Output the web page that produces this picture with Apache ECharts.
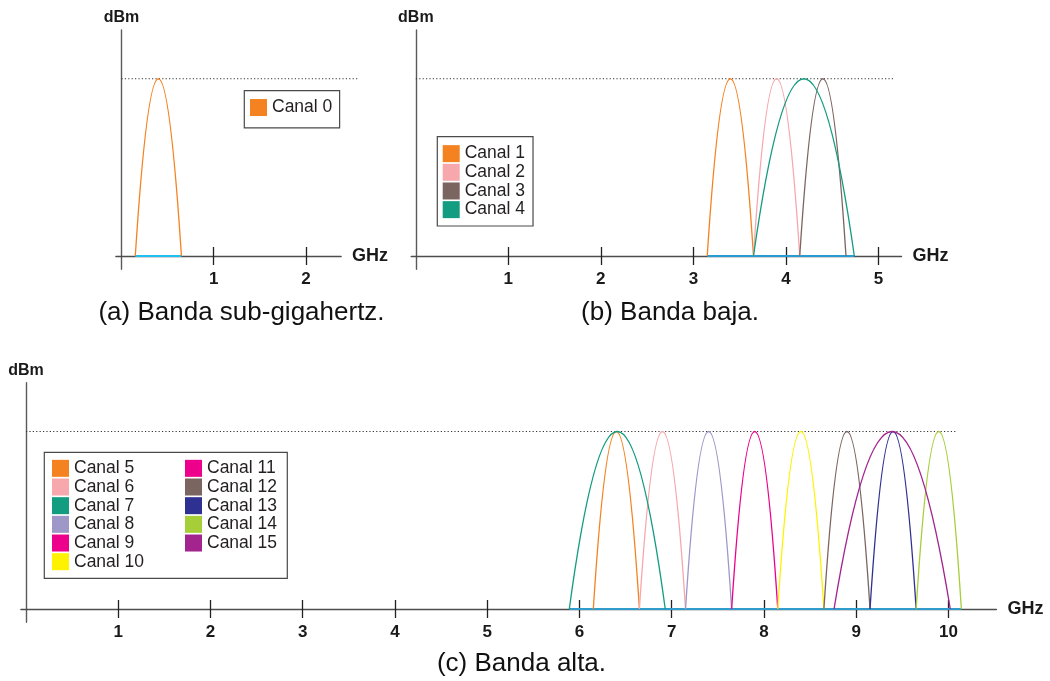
<!DOCTYPE html>
<html><head><meta charset="utf-8">
<script src="https://cdn.jsdelivr.net/npm/echarts@6/dist/echarts.min.js"></script>
<style>html,body{margin:0;padding:0;background:#fff}#c{width:1050px;height:681px}</style>
</head><body><div id="c"></div>
<script>
// ---- data ----
const namesA = ['Canal 0'];
const lowA = [0.15];
const highA = [0.65];
const colorsA = ['#f58220'];

const namesB = ['Canal 1', 'Canal 2', 'Canal 3', 'Canal 4'];
const lowB = [3.15, 3.65, 4.15, 3.65];
const highB = [3.65, 4.15, 4.65, 4.74];
const colorsB = ['#f58220', '#f6a8ac', '#7b6560', '#129c80'];

const namesC = ['Canal 5', 'Canal 6', 'Canal 7', 'Canal 8', 'Canal 9', 'Canal 10',
                'Canal 11', 'Canal 12', 'Canal 13', 'Canal 14', 'Canal 15'];
const lowC  = [6.15, 6.65, 5.89, 7.15, 7.65, 8.15, null, 8.65, 9.15, 9.65, 8.76];
const highC = [6.65, 7.15, 6.93, 7.65, 8.15, 8.65, null, 9.15, 9.65, 10.14, 10.02];
const colorsC = ['#f58220', '#f6a8ac', '#129c80', '#9e98c9', '#ec008c', '#fff200',
                 '#ec008c', '#7b6560', '#2e3192', '#a6ce39', '#a3238f'];

const peakLevel = 1;               // nivel máximo (línea punteada)
const refLineEnd = [2.56, 5.16, 10.08];
const ticksA = [1, 2];
const ticksB = [1, 2, 3, 4, 5];
const ticksC = [1, 2, 3, 4, 5, 6, 7, 8, 9, 10];
const captions = ['(a) Banda sub-gigahertz.', '(b) Banda baja.', '(c) Banda alta.'];

// ---- layout ----
const FONT = '"Liberation Sans", Arial, sans-serif';
const panels = [
  {names: namesA, lows: lowA, highs: highA, colors: colorsA, ticks: ticksA, xmin: -0.06, xmax: 2.38,
   grid: {left: 115.9, top: 30, width: 225.2, height: 239.3}, base: '#1fbff2'},
  {names: namesB, lows: lowB, highs: highB, colors: colorsB, ticks: ticksB, xmin: -0.05, xmax: 5.25,
   grid: {left: 411.2, top: 30, width: 490.3, height: 239.3}, base: '#2a9bd2'},
  {names: namesC, lows: lowC, highs: highC, colors: colorsC, ticks: ticksC, xmin: -0.055, xmax: 10.52,
   grid: {left: 20.9, top: 382.7, width: 975.5, height: 239.6}, base: '#2f9ccc'}
];

const grids = [], xAxes = [], yAxes = [], series = [];
panels.forEach((p, i) => {
  grids.push(Object.assign({outerBoundsMode: 'none', containLabel: false}, p.grid));
  xAxes.push({
    gridIndex: i, type: 'value', min: p.xmin, max: p.xmax, position: 'bottom',
    axisLine: {show: true, onZero: true, onZeroAxisIndex: i, lineStyle: {color: '#4d4d4d', width: 1.4}},
    axisTick: {show: true, length: 9, customValues: p.ticks, lineStyle: {color: '#222', width: 1.3}},
    axisLabel: {show: true, customValues: p.ticks, margin: 2, fontSize: 17, fontWeight: 'bold', color: '#1a1a1a', fontFamily: FONT},
    splitLine: {show: false},
    name: 'GHz', nameLocation: 'end', nameGap: 11,
    nameTextStyle: {fontSize: 18, fontWeight: 'bold', color: '#1a1a1a', fontFamily: FONT}
  });
  xAxes.push({
    gridIndex: i, type: 'value', min: p.xmin, max: p.xmax, position: 'bottom',
    axisLine: {show: false, onZero: true, onZeroAxisIndex: i},
    axisTick: {show: true, inside: true, length: 9, customValues: p.ticks, lineStyle: {color: '#222', width: 1.3}},
    axisLabel: {show: false}, splitLine: {show: false}
  });
  yAxes.push({
    gridIndex: i, type: 'value', min: -0.075, max: 1.275,
    axisLine: {show: true, onZero: true, lineStyle: {color: '#5a5a5a', width: 1.4}},
    axisTick: {show: false}, axisLabel: {show: false}, splitLine: {show: false},
    name: 'dBm', nameLocation: 'end', nameGap: 4,
    nameTextStyle: {fontSize: 16, fontWeight: 'bold', color: '#1a1a1a', fontFamily: FONT}
  });

  // reference (dotted) line at peak level
  series.push({
    type: 'custom', xAxisIndex: i * 2, yAxisIndex: i, silent: true, z: 1, clip: false,
    encode: {x: [0, 1], y: 2},
    data: [[0, refLineEnd[i], peakLevel]],
    renderItem: (params, api) => {
      const s = api.coord([api.value(0), api.value(2)]);
      const e = api.coord([api.value(1), api.value(2)]);
      return {
        type: 'line', shape: {x1: s[0], y1: s[1], x2: e[0], y2: e[1]},
        style: {stroke: '#333', lineWidth: 1, lineDash: [1.2, 2.2]}
      };
    }
  });
  // occupied band on the axis
  const lo = Math.min(...p.lows.filter(v => v != null));
  const hi = Math.max(...p.highs.filter(v => v != null));
  series.push({
    type: 'line', xAxisIndex: i * 2, yAxisIndex: i, silent: true, symbol: 'none', z: 2,
    data: [[lo, 0], [hi, 0]],
    lineStyle: {color: p.base, width: 2.2}
  });
  // channels
  p.names.forEach((n, k) => {
    series.push({
      type: 'custom', name: n, xAxisIndex: i * 2, yAxisIndex: i, clip: false, z: 3,
      itemStyle: {color: p.colors[k]},
      encode: {x: [0, 1], y: 2},
      data: p.lows[k] == null ? [] : [[p.lows[k], p.highs[k], peakLevel]],
      renderItem: (params, api) => {
        const a = api.value(0), b = api.value(1), pk = api.value(2);
        const p0 = api.coord([a, 0]);
        const p1 = api.coord([b, 0]);
        const top = api.coord([(a + b) / 2, pk]);
        return {
          type: 'bezierCurve',
          shape: {x1: p0[0], y1: p0[1], x2: p1[0], y2: p1[1], cpx1: top[0], cpy1: 2 * top[1] - p0[1]},
          style: {stroke: api.visual('color'), fill: null, lineWidth: 1.3}
        };
      }
    });
  });
});

const legendCommon = {
  orient: 'vertical', icon: 'rect', itemWidth: 17, itemHeight: 17, itemGap: 0,
  selectedMode: false, borderColor: '#4a4a4a', borderWidth: 1.2,
  textStyle: {fontSize: 17.5, color: '#231f20', fontFamily: FONT, lineHeight: 18.67}
};
const legends = [
  Object.assign({}, legendCommon, {data: namesA, left: 244.3, top: 90.7, padding: [7.5, 7.3, 11, 5.7]}),
  Object.assign({}, legendCommon, {data: namesB, left: 437.3, top: 136.7, padding: [7.6, 8, 7, 5.4]}),
  Object.assign({}, legendCommon, {data: namesC.slice(0, 6), left: 44.3, top: 452.3, padding: [6.7, 138.3, 7.3, 7.7],
    textStyle: Object.assign({}, legendCommon.textStyle, {width: 75})}),
  Object.assign({}, legendCommon, {data: namesC.slice(6), left: 185, top: 459, padding: 0, borderWidth: 0})
];

const capPos = [[241.5, 313], [670, 313], [521.5, 664]];
const graphic = captions.map((t, i) => ({
  type: 'text', x: capPos[i][0], y: capPos[i][1], silent: true,
  style: {text: t, font: '26px ' + FONT, fill: '#111', align: 'center', verticalAlign: 'middle',
          textAlign: 'center', textVerticalAlign: 'middle'}
}));

const chart = echarts.init(document.getElementById('c'), null, {renderer: 'canvas'});
chart.setOption({
  animation: false,
  backgroundColor: '#fff',
  grid: grids, xAxis: xAxes, yAxis: yAxes,
  legend: legends, series: series, graphic: graphic
});
</script></body></html>
